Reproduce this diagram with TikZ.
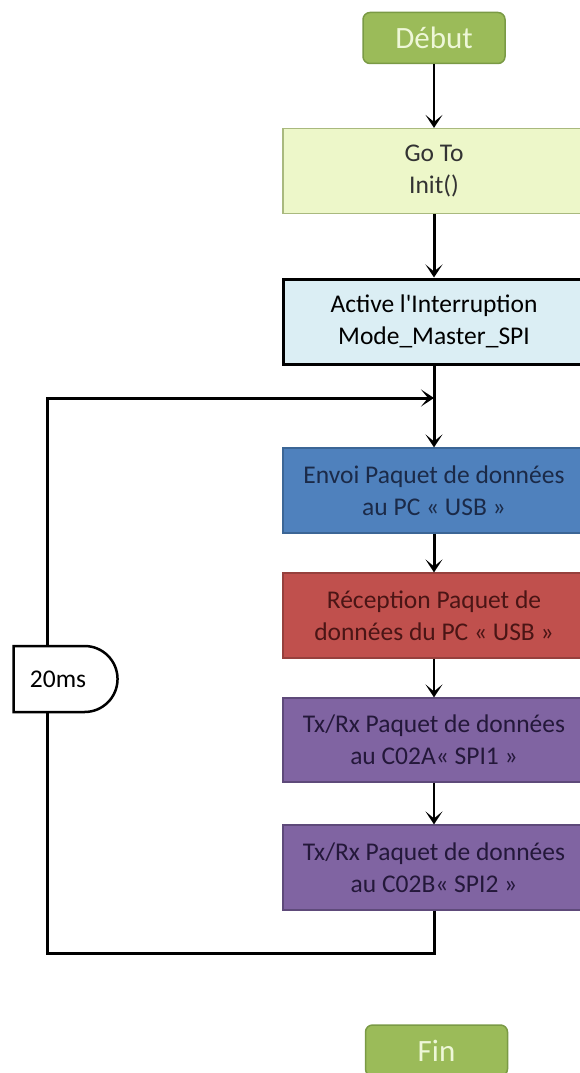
\documentclass[tikz,border=0pt]{standalone}
\usepackage{fontspec}
\setmainfont{Carlito}
\usetikzlibrary{arrows.meta,shapes.misc}
\definecolor{termfill}{HTML}{9BBB59}
\definecolor{termdraw}{HTML}{7A9A45}
\definecolor{termtext}{HTML}{EEF7D8}
\definecolor{gofill}{HTML}{EDF7C9}
\definecolor{godraw}{HTML}{A9B97E}
\definecolor{actfill}{HTML}{DBEEF4}
\definecolor{envfill}{HTML}{4F81BD}
\definecolor{envdraw}{HTML}{3C6696}
\definecolor{envtext}{HTML}{1B2A48}
\definecolor{recfill}{HTML}{C0504D}
\definecolor{recdraw}{HTML}{96403D}
\definecolor{rectext}{HTML}{4A1515}
\definecolor{txfill}{HTML}{8064A2}
\definecolor{txdraw}{HTML}{5E4A7A}
\definecolor{txtext}{HTML}{24183A}
\begin{document}
\begin{tikzpicture}[x=1pt,y=-1pt,
  terminal/.style={rounded corners=7pt, fill=termfill, draw=termdraw, line width=1.5pt,
    minimum width=142pt, minimum height=51pt, inner sep=0pt, text=termtext,
    font=\fontsize{31}{36}\selectfont},
  procbox/.style={minimum width=302pt, minimum height=85pt, inner sep=0pt, align=center,
    font=\fontsize{25.5}{32}\selectfont, line width=1.2pt},
  tipstyle/.style={-{Stealth[length=13pt,width=17pt,inset=7pt]}},
  thickarr/.style={line width=3pt, tipstyle},
  thinarr/.style={line width=1.8pt, tipstyle},
  loopline/.style={line width=3pt},
  delaybox/.style={rounded rectangle, rounded rectangle left arc=none, draw=black,
    fill=white, line width=2.5pt, minimum width=104pt, minimum height=66pt,
    inner sep=0pt, font=\fontsize{25.5}{30}\selectfont}
]
\useasboundingbox (0,0) rectangle (579,1073);

\node[terminal] (debut) at (434,38) {Début};
\node[procbox, fill=gofill, draw=godraw, text=black!80] (goto) at (434,171) {Go To\\Init()};
\node[procbox, fill=actfill, draw=black, line width=3pt] (active) at (434,321.5) {Active l\textquotesingle Interruption\\Mode\_Master\_SPI};
\node[procbox, fill=envfill, draw=envdraw, text=envtext] (envoi) at (434,490.5) {Envoi Paquet de données\\au PC « USB »};
\node[procbox, fill=recfill, draw=recdraw, text=rectext] (recep) at (434,615.5) {Réception Paquet de\\données du PC « USB »};
\node[procbox, fill=txfill, draw=txdraw, text=txtext, minimum height=84pt] (txa) at (434,740) {Tx/Rx Paquet de données\\au C02A« SPI1 »};
\node[procbox, fill=txfill, draw=txdraw, text=txtext] (txb) at (434,867.5) {Tx/Rx Paquet de données\\au C02B« SPI2 »};
\node[terminal] (fin) at (436.5,1050.5) {Fin};
\node[delaybox] (delay) at (65,679) {\hspace{-14pt}20ms};

\coordinate (j) at (434,398);
\coordinate (lt) at (47,398);
\coordinate (bot) at (434,953);

\draw[thinarr] (debut) -- (goto);
\draw[thickarr] (goto) -- (active);
\draw[thickarr] (active) -- (envoi);
\draw[thickarr] (envoi) -- (recep);
\draw[thinarr] (recep) -- (txa);
\draw[thinarr] (txa) -- (txb);
\draw[loopline, line join=miter] (txb.south) -- (bot) -- (bot -| lt) -- (delay.south -| lt);
\draw[thickarr, line join=miter] (delay.north -| lt) -- (lt) -- (j);
\end{tikzpicture}
\end{document}
